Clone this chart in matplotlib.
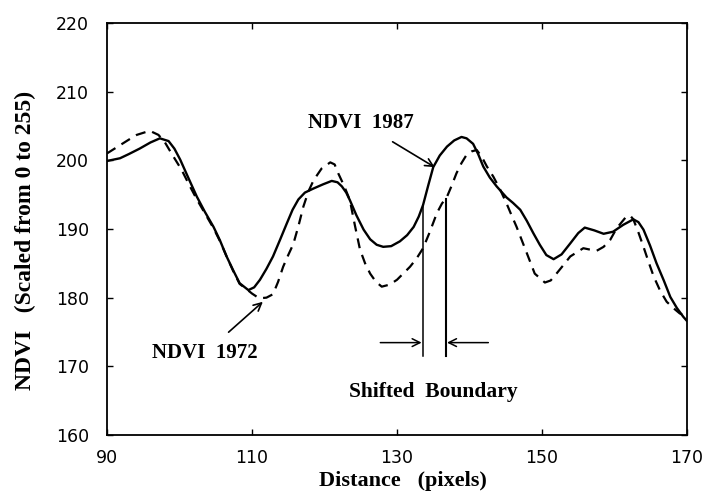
import matplotlib
matplotlib.use("Agg")
import matplotlib.pyplot as plt

# ---- data ----
x_1987 = [90.0, 91.8, 93.0, 94.5, 96.0, 97.3, 98.5, 99.3, 100.1, 101.2, 102.4, 103.5, 104.7, 105.6,
          106.5, 107.4, 108.3, 109.5, 110.3, 111.1, 112.0, 112.9, 113.9, 114.8, 115.6, 116.4, 117.3,
          118.5, 119.8, 121.0, 121.8, 122.4, 123.0, 123.5, 124.4, 125.4, 126.3, 127.2, 128.1, 129.2,
          130.4, 131.4, 132.3, 133.0, 133.6, 134.3, 135.0, 135.9, 136.9, 137.9, 138.9, 139.6, 140.5,
          141.2, 141.9, 142.8, 143.75, 145.1, 146.0, 147.0, 147.9, 148.8, 149.7, 150.6, 151.6, 152.7,
          153.9, 155.0, 155.9, 157.2, 158.5, 159.8, 161.2, 162.6, 163.3, 164.0, 164.9, 165.8, 166.8,
          167.7, 168.6, 169.5, 170.0]
y_1987 = [199.9, 200.3, 200.9, 201.7, 202.6, 203.2, 202.8, 201.7, 200.1, 197.5, 194.7, 192.5, 190.3, 188.3,
          186.0, 184.0, 182.1, 181.1, 181.5, 182.6, 184.2, 186.0, 188.5, 190.8, 192.8, 194.3, 195.3,
          195.9, 196.5, 197.0, 196.8, 196.2, 195.3, 194.2, 192.0, 189.9, 188.5, 187.7, 187.4, 187.5,
          188.2, 189.1, 190.3, 191.8, 193.5, 196.3, 199.0, 200.7, 202.0, 202.9, 203.4, 203.2, 202.4,
          200.9, 199.1, 197.5, 196.2, 194.6, 193.8, 192.8, 191.2, 189.4, 187.7, 186.2, 185.6, 186.3,
          187.9, 189.4, 190.2, 189.8, 189.3, 189.6, 190.6, 191.4, 191.0, 189.9, 187.6, 185.0, 182.5,
          180.1, 178.5, 177.2, 176.6]

x_1972 = [90.0, 91.8, 93.0, 94.1, 95.9, 97.1, 98.0, 98.9, 100.3, 101.3, 102.4, 103.5, 104.7, 105.6,
          106.5, 107.4, 108.3, 109.3, 110.0, 111.0, 112.0, 112.9, 113.6, 114.3, 115.0, 115.7, 116.4,
          117.1, 117.8, 118.5, 119.6, 120.8, 121.4, 121.9, 122.7, 123.5, 124.2, 124.9, 125.6, 126.3,
          127.1, 127.9, 129.0, 130.0, 131.8, 132.7, 133.6, 134.5, 135.5, 136.2, 136.9, 137.5, 138.2,
          138.9, 139.6, 140.3, 141.0, 141.7, 142.4, 143.3, 144.2, 145.1, 145.8, 146.5, 147.2, 147.9,
          149.0, 150.4, 151.2, 152.0, 153.0, 153.9, 155.7, 157.5, 158.5, 159.4, 160.3, 161.7, 162.2,
          162.6, 163.3, 164.0, 164.7, 165.4, 166.3, 167.2, 168.1, 169.0, 170.0]
y_1972 = [201.0, 202.2, 203.0, 203.7, 204.3, 203.7, 202.6, 201.0, 198.6, 196.5, 194.3, 192.3, 190.1, 188.2,
          186.0, 183.9, 182.0, 181.2, 180.6, 179.9, 180.0, 180.5, 182.3, 184.5, 186.2, 187.8, 190.4,
          193.3, 195.5, 197.1, 198.8, 199.7, 199.4, 198.1, 196.3, 194.2, 190.5, 187.0, 185.0, 183.5,
          182.3, 181.6, 181.9, 182.6, 184.5, 185.7, 187.2, 189.5, 192.3, 193.7, 194.7, 196.2, 198.1,
          199.6, 200.8, 201.3, 201.5, 200.5, 199.1, 197.6, 195.8, 193.75, 192.0, 190.3, 188.4, 186.5,
          183.5, 182.2, 182.5, 183.5, 184.8, 186.0, 187.2, 186.8, 187.4, 188.4, 190.1, 191.9, 191.9,
          191.4, 189.5, 187.4, 185.2, 183.1, 181.0, 179.4, 178.5, 177.7, 177.3]

x_ticks = [90, 110, 130, 150, 170]
y_ticks = [160, 170, 180, 190, 200, 210, 220]

boundary_1987_x, boundary_1987_top = 133.6, 193.5
boundary_1972_x, boundary_1972_top = 136.7, 194.3
boundary_bottom = 171.5
arrow_y = 173.45

serif = "Liberation Serif"
sans = "DejaVu Sans"

fig = plt.figure(figsize=(7.07, 4.92), dpi=100)
ax = fig.add_axes([0.1513, 0.1159, 0.8204, 0.8374])

ax.plot(x_1987, y_1987, color="black", lw=1.7, solid_capstyle="round")
ax.plot(x_1972, y_1972, color="black", lw=1.6, linestyle=(0, (4.5, 3.2)))

ax.set_xlim(90, 170)
ax.set_ylim(160, 220)
ax.set_xticks(x_ticks)
ax.set_yticks(y_ticks)
ax.tick_params(direction="in", length=4, width=1.0, top=True, right=True,
               labelsize=12.5, pad=13)
ax.tick_params(axis="x", pad=10)
for lab in ax.get_xticklabels() + ax.get_yticklabels():
    lab.set_fontfamily(sans)
for s in ax.spines.values():
    s.set_linewidth(1.3)

ax.set_xlabel("Distance   (pixels)", fontfamily=serif, fontweight="bold", fontsize=16)
ax.xaxis.label.set_va("center")
ax.xaxis.set_label_coords(0.510, -0.112)
ax.set_ylabel("NDVI   (Scaled from 0 to 255)", fontfamily=serif, fontweight="bold", fontsize=17)
ax.yaxis.label.set_va("center")
ax.yaxis.set_label_coords(-0.141, 0.471)

# annotations
ax.annotate("NDVI  1987", xy=(135.2, 199.0), xytext=(125.0, 205.5),
            fontfamily=serif, fontweight="bold", fontsize=15, ha="center", va="center",
            arrowprops=dict(arrowstyle="->", color="black", lw=1.2, shrinkA=9, shrinkB=0,
                            mutation_scale=14))
ax.annotate("NDVI  1972", xy=(111.5, 179.4), xytext=(103.5, 171.9),
            fontfamily=serif, fontweight="bold", fontsize=15, ha="center", va="center",
            arrowprops=dict(arrowstyle="->", color="black", lw=1.2, shrinkA=9, shrinkB=0,
                            mutation_scale=14))

ax.plot([boundary_1987_x, boundary_1987_x], [boundary_bottom, boundary_1987_top], color="black", lw=1.1)
ax.plot([boundary_1972_x, boundary_1972_x], [boundary_bottom, boundary_1972_top], color="black", lw=1.5)
ax.annotate("", xy=(boundary_1987_x - 0.2, arrow_y), xytext=(127.7, arrow_y),
            arrowprops=dict(arrowstyle="->", color="black", lw=1.1, shrinkA=0, shrinkB=0,
                            mutation_scale=14))
ax.annotate("", xy=(boundary_1972_x + 0.2, arrow_y), xytext=(142.6, arrow_y),
            arrowprops=dict(arrowstyle="->", color="black", lw=1.1, shrinkA=0, shrinkB=0,
                            mutation_scale=14))
ax.text(135.0, 166.2, "Shifted  Boundary", fontfamily=serif, fontweight="bold", fontsize=15.5,
        ha="center", va="center")

fig.savefig("out.png", dpi=100)
